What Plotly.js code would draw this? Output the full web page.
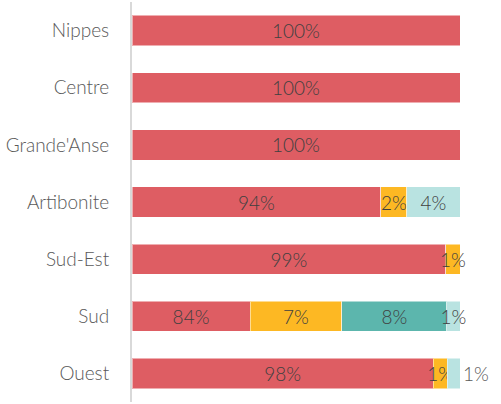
<!DOCTYPE html>
<html>
<head>
<meta charset="utf-8">
<script src="https://cdn.plot.ly/plotly-3.0.1.min.js"></script>
<style>html,body{margin:0;padding:0;background:#fff;}#chart{width:501px;height:404px;}</style>
</head>
<body>
<div id="chart"></div>
<script>
// Categories (top to bottom)
var regions = ["Nippes", "Centre", "Grande'Anse", "Artibonite", "Sud-Est", "Sud", "Ouest"];

// Segment lengths as drawn (share of full bar length)
var redValues    = [100, 100, 100, 75.9, 95.7, 36.0, 91.8];
var yellowValues = [null, null, null, 7.9, 4.3, 28.0, 4.3];
var tealValues   = [null, null, null, null, null, 32.0, null];
var lightValues  = [null, null, null, 16.2, null, 4.0, 3.9];

// Labels shown on segments
var redLabels    = ["100%", "100%", "100%", "94%", "99%", "84%", "98%"];
var yellowLabels = ["", "", "", "2%", "1%", "7%", "1%"];
var tealLabels   = ["", "", "", "", "", "8%", ""];
var lightLabels  = ["", "", "", "4%", "", "1%", "1%"];
var lightPos     = ["inside", "inside", "inside", "inside", "inside", "inside", "outside"];

var fontFam = "Lato, 'Open Sans', sans-serif";
var labelFont = {family: fontFam, size: 19, color: "#404040", weight: 300};

function seg(vals, labels, color, pos) {
  return {
    type: "bar", orientation: "h",
    y: regions, x: vals,
    text: labels, texttemplate: "%{text}",
    textposition: pos || "inside",
    insidetextanchor: "middle",
    textangle: 0,
    constraintext: "none",
    cliponaxis: false,
    textfont: labelFont,
    insidetextfont: labelFont,
    outsidetextfont: {family: fontFam, size: 19, color: "#595959", weight: 300},
    marker: {color: color, line: {color: "rgba(255,255,255,0.5)", width: 1}},
    hoverinfo: "skip", showlegend: false
  };
}

var data = [
  seg(redValues, redLabels, "#de5d63"),
  seg(yellowValues, yellowLabels, "#fdb823"),
  seg(tealValues, tealLabels, "#5cb6ad"),
  seg(lightValues, lightLabels, "#b9e3e1", lightPos)
];

var layout = {
  width: 501, height: 404,
  margin: {l: 132, r: 6, t: 2, b: 2},
  barmode: "stack",
  bargap: 0.47,
  paper_bgcolor: "#fff", plot_bgcolor: "#fff",
  xaxis: {range: [0, 110.67], visible: false, fixedrange: true},
  yaxis: {
    type: "category",
    categoryorder: "array", categoryarray: regions,
    autorange: "reversed",
    showgrid: false, zeroline: false,
    showline: true, linecolor: "#d9d9d9", linewidth: 2,
    ticks: "", ticklabelstandoff: 17,
    tickfont: {family: fontFam, size: 19, color: "#595959", weight: 300}
  },
  font: {family: fontFam}
};

Plotly.newPlot("chart", data, layout, {staticPlot: true, displayModeBar: false});
</script>
</body>
</html>
